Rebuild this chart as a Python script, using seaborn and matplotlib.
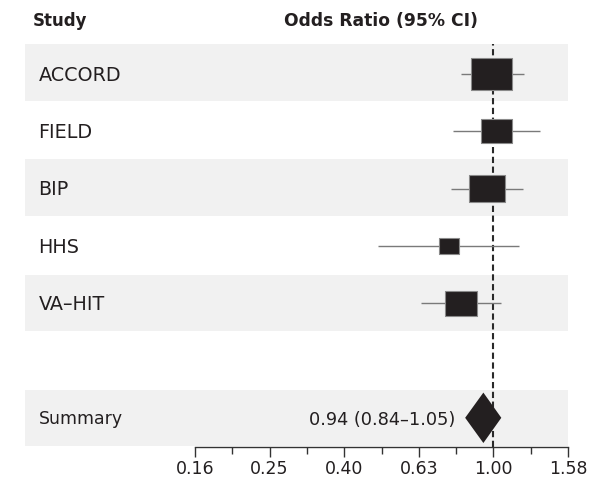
import numpy as np
import pandas as pd
import matplotlib
matplotlib.use("Agg")
import matplotlib.pyplot as plt
import seaborn as sns

# Study-level estimates (odds ratios with 95% CI) and relative weights
studies = ["ACCORD", "FIELD", "BIP", "HHS", "VA\u2013HIT"]
odds_ratio = [0.99, 1.02, 0.96, 0.76, 0.82]
ci_low = [0.82, 0.78, 0.77, 0.49, 0.64]
ci_high = [1.21, 1.33, 1.20, 1.17, 1.05]
weights = [31.6, 17.7, 24.1, 7.5, 19.1]

# Pooled estimate
summary_label = "Summary"
summary_or = 0.94
summary_low = 0.84
summary_high = 1.05

# Axis ticks (log scale)
tick_values = [10 ** -0.8, 10 ** -0.6, 10 ** -0.4, 10 ** -0.2, 1.0, 10 ** 0.2]
tick_labels = ["0.16", "0.25", "0.40", "0.63", "1.00", "1.58"]

sns.set_theme(style="white")
plt.rcParams["font.family"] = ["DejaVu Sans"]

TEXT = "#231f20"
BAND = "#f1f1f1"

W, H = 594, 481
fig = plt.figure(figsize=(W / 100, H / 100), dpi=100)
ax_l, ax_r, ax_t, ax_b = 195, 568, 45, 448
ax = fig.add_axes([ax_l / W, (H - ax_b) / H, (ax_r - ax_l) / W, (ax_b - ax_t) / H])

ROW0, ROWSTEP = 75.0, 57.3  # pixel centre of first row, row spacing


def row_to_fig(r, offset_px=0.0):
    return 1 - (ROW0 + ROWSTEP * r + offset_px) / H


def px_to_row(px):
    return (px - ROW0) / ROWSTEP


n = len(studies)
summary_row = n + 1
rows = list(range(n))

df = pd.DataFrame({"study": studies, "or": odds_ratio, "lo": ci_low,
                   "hi": ci_high, "weight": weights, "row": rows})

ax.set_xscale("log")
ax.set_xlim(tick_values[0], tick_values[-1])
ax.set_ylim(px_to_row(ax_b), px_to_row(ax_t))

# Alternating shaded row bands, reaching left under the study names
band_left = (25 - ax_l) / (ax_r - ax_l)
for r in [0, 2, 4, summary_row]:
    top = 45 + 57.67 * r
    ax.axhspan(px_to_row(top), px_to_row(min(top + 56.5, 446.5)),
               xmin=band_left, xmax=1.0, color=BAND,
               lw=0, zorder=0, clip_on=False)

# Confidence interval whiskers
ax.hlines(df["row"], df["lo"], df["hi"], color="#7a7a7a", lw=1.0, zorder=2)

# Line of no effect
ax.axvline(1.0, color="#2a2a2a", lw=1.5, ls=(0, (3, 1.7)), zorder=1.5)

# Weighted boxes
box = [(-1.28, -1), (1.28, -1), (1.28, 1), (-1.28, 1), (-1.28, -1)]
wmax = max(weights)
sns.scatterplot(data=df, x="or", y="row", size="weight",
                sizes=(0, 860), size_norm=(0, wmax), marker=box,
                color=TEXT, edgecolor="#8a8a8a", linewidth=0.8,
                legend=False, ax=ax, zorder=3)

# Summary diamond
half_h = 0.44
ax.fill([summary_low, summary_or, summary_high, summary_or],
        [summary_row, summary_row - half_h, summary_row, summary_row + half_h],
        color=TEXT, lw=0, zorder=3)
fig.text(455 / W, row_to_fig(summary_row, 6.5),
         f"{summary_or:.2f} ({summary_low:.2f}\u2013{summary_high:.2f})",
         ha="right", va="baseline", fontsize=12.8, color=TEXT)

# Study names
for r, name in zip(rows, studies):
    fig.text(38.5 / W, row_to_fig(r, 5.8), name, ha="left", va="baseline",
             fontsize=13.8, color=TEXT)
fig.text(39 / W, row_to_fig(summary_row, 5.2), summary_label,
         ha="left", va="baseline", fontsize=12.4, color=TEXT)

# Column headers
fig.text(32.5 / W, 1 - 26.5 / H, "Study", ha="left", va="baseline",
         fontsize=12, fontweight="bold", color=TEXT)
fig.text(381 / W, 1 - 26.5 / H, "Odds Ratio (95% CI)", ha="center", va="baseline",
         fontsize=12.3, fontweight="bold", color=TEXT)

# Axis styling: bottom line only, ticks pointing down
for side in ["top", "left", "right"]:
    ax.spines[side].set_visible(False)
ax.spines["bottom"].set_color("#333333")
ax.spines["bottom"].set_linewidth(1.0)
ax.set_xticks(tick_values)
ax.set_xticklabels(tick_labels)
minor = [np.sqrt(a * b) for a, b in zip(tick_values[:-1], tick_values[1:])]
ax.set_xticks(minor, minor=True)
ax.tick_params(axis="x", which="major", direction="out", length=7.5, width=1.0,
               color="#333333", labelsize=12.5, labelcolor=TEXT, pad=1.5, bottom=True)
ax.tick_params(axis="x", which="minor", direction="out", length=5, width=1.0,
               color="#333333", bottom=True, labelbottom=False)
ax.set_yticks([])
ax.set_xlabel("")
ax.set_ylabel("")
ax.grid(False)
ax.set_facecolor("none")

fig.savefig("out.png", dpi=100)
